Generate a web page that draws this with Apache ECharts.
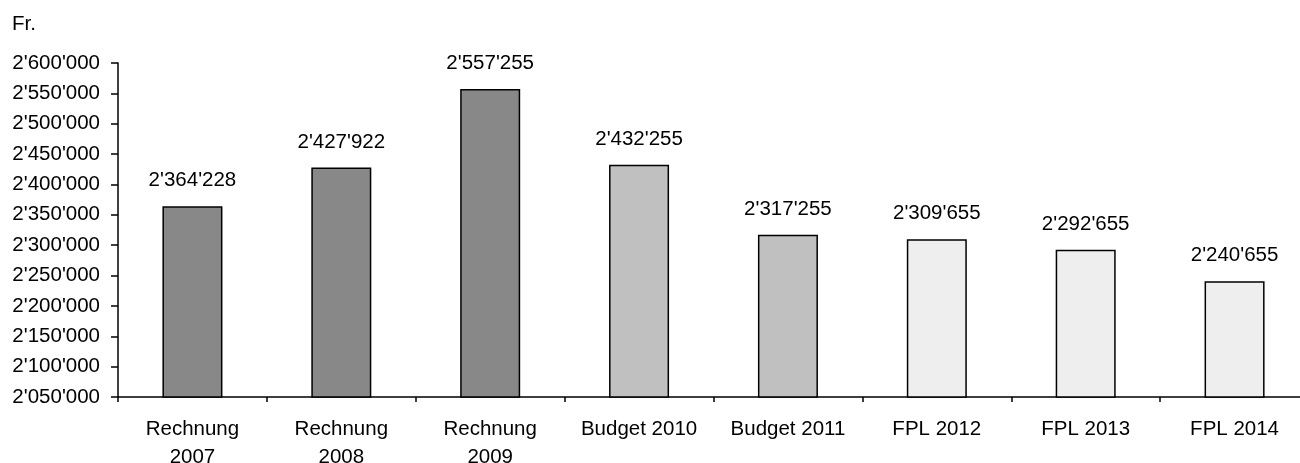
<!DOCTYPE html>
<html><head><meta charset="utf-8">
<script src="https://cdn.jsdelivr.net/npm/echarts@6/dist/echarts.min.js"></script>
<style>html,body{margin:0;padding:0;background:#fff}#c{width:1300px;height:463px}</style>
</head><body><div id="c"></div>
<script>
const categories = ['Rechnung\n2007','Rechnung\n2008','Rechnung\n2009','Budget 2010','Budget 2011','FPL 2012','FPL 2013','FPL 2014'];
const values = [2364228, 2427922, 2557255, 2432255, 2317255, 2309655, 2292655, 2240655];
const barColors = ['#888888','#888888','#888888','#c0c0c0','#c0c0c0','#eeeeee','#eeeeee','#eeeeee'];
const unitLabel = 'Fr.';
const fmt = v => String(v).replace(/\B(?=(\d{3})+(?!\d))/g, "'");
const font = 'Liberation Sans, Arial, sans-serif';
const fs = 20.5;
const chart = echarts.init(document.getElementById('c'), null, {renderer:'canvas'});
chart.setOption({
  animation:false,
  textStyle:{fontFamily:font},
  title:{text:unitLabel,left:12,top:14,padding:0,textStyle:{fontFamily:font,fontSize:fs,fontWeight:'normal',color:'#000'}},
  grid:{left:118,top:63,width:1191,height:334,containLabel:false,outerBoundsMode:'none'},
  xAxis:{type:'category',data:categories,
    axisLine:{lineStyle:{color:'#000',width:1.5}},
    axisTick:{show:true,alignWithLabel:false,length:5,lineStyle:{color:'#000',width:1.5}},
    axisLabel:{interval:0,color:'#000',fontSize:fs,fontFamily:font,lineHeight:28,margin:18}},
  yAxis:{type:'value',min:2050000,max:2600000,interval:50000,
    splitLine:{show:false},
    axisLine:{show:true,lineStyle:{color:'#000',width:1.5}},
    axisTick:{show:true,length:7,lineStyle:{color:'#000',width:1.5}},
    axisLabel:{color:'#000',fontSize:fs,fontFamily:font,margin:18,formatter:v=>fmt(v)}},
  series:[{type:'bar',barWidth:60,
    data:values.map((v,i)=>({value:v,itemStyle:{color:barColors[i]}})),
    itemStyle:{borderColor:'#000',borderWidth:1.5},
    label:{show:true,position:'top',distance:15,color:'#000',fontSize:fs,fontFamily:font,formatter:p=>fmt(p.value)}}]
});
</script></body></html>
